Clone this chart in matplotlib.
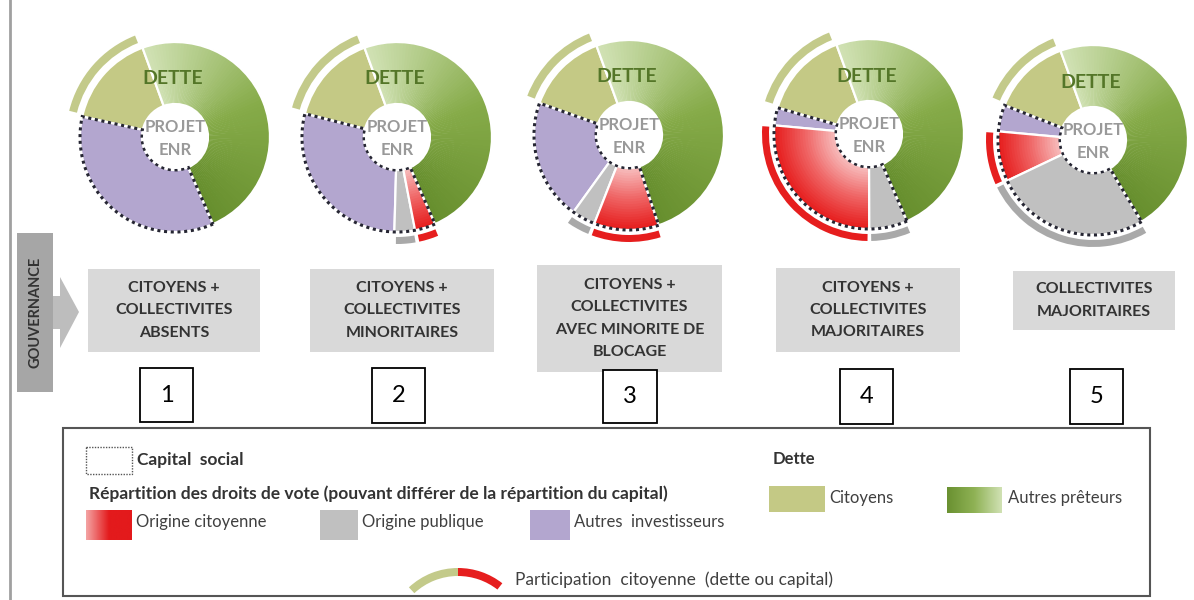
import numpy as np
import matplotlib
matplotlib.use("Agg")
import matplotlib.pyplot as plt
from matplotlib.patches import Wedge, Circle, Rectangle, Polygon
from matplotlib.colors import LinearSegmentedColormap

plt.rcParams['font.family'] = ['Lato', 'DejaVu Sans']

# parts de chaque anneau en % du tour, scenarios 1 a 5
dette_citoyens = [16, 15.5, 14, 15, 13.5]
autres_investisseurs = [35, 28.5, 20.5, 3, 4.5]
origine_publique = [0, 3.5, 4, 6.5, 26.5]
origine_citoyenne = [0, 3.5, 11, 26.5, 8.5]
autres_preteurs = [49, 49, 50.5, 49, 47]
# ordre des parts du capital (sens trigo)
ordre_capital = [
    ["inv", "pub", "cit"],
    ["inv", "pub", "cit"],
    ["inv", "pub", "cit"],
    ["inv", "cit", "pub"],
    ["inv", "cit", "pub"],
]
gouvernance = [
    "CITOYENS +\nCOLLECTIVITES\nABSENTS",
    "CITOYENS +\nCOLLECTIVITES\nMINORITAIRES",
    "CITOYENS +\nCOLLECTIVITES\nAVEC MINORITE DE\nBLOCAGE",
    "CITOYENS +\nCOLLECTIVITES\nMAJORITAIRES",
    "COLLECTIVITES\nMAJORITAIRES",
]
numeros = ["1", "2", "3", "4", "5"]

# mise en page (pixels)
cx_list = [175, 397, 629, 869, 1093]
cy_list = [137, 137, 135, 134, 140]
R_OUT, R_IN = 95, 33
DEBUT = 110  # angle de depart (degres, ecran)
boites = [(88, 269, 172, 83), (310, 269, 184, 83), (537, 265, 185, 107),
          (776, 268, 184, 84), (1013, 271, 162, 59)]
boites_num = [(140, 368, 53, 54), (372, 368, 53, 55), (603, 370, 54, 53),
              (840, 369, 53, 55), (1070, 369, 53, 55)]

KAKI = '#c4c985'
KAKI_ARC = '#c3ca8a'
VIOLET = '#b3a6cf'
GRIS = '#c0c0c0'
GRIS_ARC = '#a9a9a9'
ROUGE = '#e61e1e'
TXT = '#333333'
LEG = '#404040'

vert_cmap = LinearSegmentedColormap.from_list('vert', ['#678f2e', '#86ab49', '#d0e1b3'])
rouge_cmap = LinearSegmentedColormap.from_list('rouge', ['#f7bcbc', '#ef6464', '#e61e1e'])

fig = plt.figure(figsize=(11.94, 6.0), dpi=100)
ax = fig.add_axes([0, 0, 1, 1])
ax.set_xlim(0, 1194)
ax.set_ylim(600, 0)
ax.axis('off')


def secteur(cx, cy, r, a1, a2, width=None, **kw):
    # angles a l'ecran, sens trigo ; l'axe y est inverse
    w = Wedge((cx, cy), r, -a2, -a1, width=width, **kw)
    ax.add_patch(w)
    return w


for i in range(5):
    cx, cy = cx_list[i], cy_list[i]
    parts = {"inv": autres_investisseurs[i], "pub": origine_publique[i],
             "cit": origine_citoyenne[i]}
    a = DEBUT
    # dette citoyens
    a_k = a + dette_citoyens[i] * 3.6
    secteur(cx, cy, R_OUT, a, a_k, width=R_OUT - R_IN, fc=KAKI, ec='none')
    secteur(cx, cy, R_OUT, a, a_k, width=R_OUT - R_IN, fill=False, ec='white', lw=1.6)
    secteur(cx, cy, 109, a + 1.5, a_k - 1.5, width=8, fc=KAKI_ARC, ec='none')
    a = a_k
    cap_debut = a
    for k in ordre_capital[i]:
        v = parts[k]
        if v <= 0:
            continue
        a2 = a + v * 3.6
        if k == "inv":
            secteur(cx, cy, R_OUT, a, a2, width=R_OUT - R_IN, fc=VIOLET, ec='none')
        elif k == "pub":
            secteur(cx, cy, R_OUT, a, a2, width=R_OUT - R_IN, fc=GRIS, ec='none')
            secteur(cx, cy, 107, a + 1, a2 - 1, width=7, fc=GRIS_ARC, ec='none')
        else:
            # degrade radial : du plus grand au plus petit, sans jointures
            n = 24
            rr = np.linspace(R_IN, R_OUT, n + 1)
            for j in range(n - 1, -1, -1):
                secteur(cx, cy, rr[j + 1], a, a2, width=rr[j + 1] - R_IN,
                        fc=rouge_cmap(j / (n - 1)), ec='none', lw=0)
            secteur(cx, cy, 107, a + 1, a2 - 1, width=7, fc=ROUGE, ec='none')
        secteur(cx, cy, R_OUT, a, a2, width=R_OUT - R_IN, fill=False, ec='white', lw=1.6)
        a = a2
    cap_fin = a
    # autres preteurs, degrade
    a_fin = a + autres_preteurs[i] * 3.6
    n = 90
    aa = np.linspace(a, a_fin, n + 1)
    for j in range(n):
        secteur(cx, cy, R_OUT, aa[j] - 0.3, aa[j + 1] + 0.3, width=R_OUT - R_IN,
                fc=vert_cmap(j / (n - 1)), ec='none', lw=0)
    secteur(cx, cy, R_OUT, a, a_fin, width=R_OUT - R_IN, fill=False, ec='white', lw=1.6)
    # contour pointille du capital social
    secteur(cx, cy, R_OUT, cap_debut, cap_fin, width=R_OUT - R_IN, fill=False,
            ec='#262633', lw=2.2, ls=(0, (1, 1.2)))
    ax.add_patch(Circle((cx, cy), R_IN - 1, fc='white', ec='none'))
    ax.text(cx - 2, cy - 58, "DETTE", ha='center', va='center', fontsize=14,
            fontweight='bold', color='#547628')
    ax.text(cx, cy - 10, "PROJET", ha='center', va='center', fontsize=12,
            fontweight='bold', color='#999999')
    ax.text(cx, cy + 13, "ENR", ha='center', va='center', fontsize=12,
            fontweight='bold', color='#999999')

    # boites gouvernance et numeros
    x0, y0, w, h = boites[i]
    ax.add_patch(Rectangle((x0, y0), w, h, fc='#d9d9d9', ec='none'))
    ax.text(x0 + w / 2, y0 + h / 2, gouvernance[i], ha='center', va='center',
            fontsize=11.5, fontweight='bold', color=TXT, linespacing=1.75)
    x0, y0, w, h = boites_num[i]
    ax.add_patch(Rectangle((x0, y0), w, h, fc='white', ec='black', lw=1.3))
    ax.text(x0 + w / 2, y0 + h / 2, numeros[i], ha='center', va='center',
            fontsize=17, color='black')

# bandeau gouvernance
ax.plot([10, 10], [0, 600], color='#a0a0a0', lw=2)
ax.add_patch(Rectangle((17, 233), 36, 159, fc='#a6a6a6', ec='none'))
ax.add_patch(Polygon([(53, 296), (60, 296), (60, 277), (79, 312), (60, 348), (60, 329), (53, 329)],
                     closed=True, fc='#bdbdbd', ec='none'))
ax.text(35, 312, "GOUVERNANCE", rotation=90, ha='center', va='center',
        fontsize=10.5, fontweight='bold', color=TXT)

# legende
ax.add_patch(Rectangle((63, 428), 1087, 168, fill=False, ec='#555555', lw=1.5))
ax.add_patch(Rectangle((86, 447), 46, 27, fill=False, ec='#555555', lw=1, ls=(0, (1, 1))))
ax.text(137, 460, "Capital  social", ha='left', va='center', fontsize=12.5,
        fontweight='bold', color=TXT)
ax.text(89, 494, "Répartition des droits de vote (pouvant différer de la répartition du capital)",
        ha='left', va='center', fontsize=12.5, fontweight='bold', color=TXT)
grad = np.linspace(0, 1, 64).reshape(1, -1)
ax.imshow(grad, cmap=LinearSegmentedColormap.from_list('rg', ['#f4a3a3', '#e31a1c', '#e31a1c']),
          extent=(86, 132, 540, 510), aspect='auto')
ax.text(136, 522, "Origine citoyenne", ha='left', va='center', fontsize=12, color=LEG)
ax.add_patch(Rectangle((320, 510), 38, 30, fc=GRIS, ec='none'))
ax.text(362, 522, "Origine publique", ha='left', va='center', fontsize=12, color=LEG)
ax.add_patch(Rectangle((530, 510), 40, 30, fc=VIOLET, ec='none'))
ax.text(574, 522, "Autres  investisseurs", ha='left', va='center', fontsize=12, color=LEG)

ax.text(773, 459, "Dette", ha='left', va='center', fontsize=12, fontweight='bold', color=TXT)
ax.add_patch(Rectangle((769, 486), 56, 26, fc=KAKI, ec='none'))
ax.text(829, 498, "Citoyens", ha='left', va='center', fontsize=12, color=LEG)
ax.imshow(grad, cmap=LinearSegmentedColormap.from_list('vg', ['#6a9131', '#8fb255', '#d0e1b3']),
          extent=(947, 1002, 513, 487), aspect='auto')
ax.text(1008, 498, "Autres prêteurs", ha='left', va='center', fontsize=12, color=LEG)

secteur(458, 640, 72, 90, 133, width=8, fc=KAKI_ARC, ec='none')
secteur(458, 640, 72, 52, 90, width=8, fc=ROUGE, ec='none')
ax.text(515, 580, "Participation  citoyenne  (dette ou capital)", ha='left', va='center',
        fontsize=12.5, color=LEG)

ax.set_xlim(0, 1194)
ax.set_ylim(600, 0)
fig.savefig("out.png", dpi=100)
